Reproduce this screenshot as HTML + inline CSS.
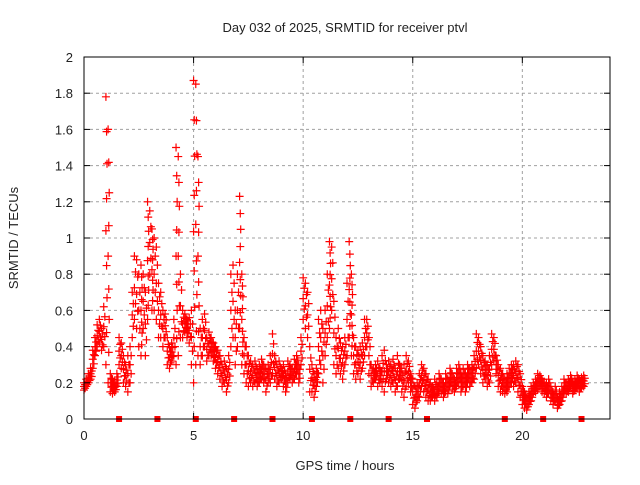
<!DOCTYPE html>
<html><head><meta charset="utf-8"><style>
body{margin:0;background:#fff}
svg text{font-family:"Liberation Sans",sans-serif;font-size:13px;fill:#222}
</style></head><body>
<svg id="chart" width="640" height="480" xmlns="http://www.w3.org/2000/svg">
<text x="345" y="32" text-anchor="middle">Day 032 of 2025, SRMTID for receiver ptvl</text>
<text transform="translate(18,238) rotate(-90)" text-anchor="middle">SRMTID / TECUs</text>
<text x="345" y="470" text-anchor="middle">GPS time / hours</text>
<g id="grid"></g><g id="marks"></g>
<rect x="84" y="57" width="526" height="362" fill="none" stroke="#000" stroke-width="1"/>
<g id="ticks"></g>
</svg>
<script>
const xTicks=[0,5,10,15,20];
const yTicks=[0,0.2,0.4,0.6,0.8,1,1.2,1.4,1.6,1.8,2];
const yTickLabels=["0","0.2","0.4","0.6","0.8","1","1.2","1.4","1.6","1.8","2"];
const hiVals=[.20,.22,.25,.28,.38,.45,.52,.55,.50,.62,1.78,1.60,.25,.22,.20,.25,.45,.42,.35,.30,.35,.40,.70,.90,.88,.80,.85,.80,.70,1.20,1.15,1.05,1.00,.95,.75,.70,.60,.58,.45,.40,.42,.55,1.50,1.45,.80,.60,.58,.55,.56,.60,1.87,1.85,1.45,.50,.55,.58,.45,.48,.45,.42,.40,.38,.35,.30,.32,.28,.35,.80,.85,.60,.80,1.23,.80,.45,.40,.35,.32,.30,.32,.28,.30,.33,.30,.28,.30,.35,.47,.35,.30,.32,.28,.30,.25,.32,.30,.28,.33,.35,.30,.45,.78,.75,.70,.40,.30,.25,.28,.55,.60,.50,.60,.80,.98,.95,.65,.45,.50,.42,.40,.45,.75,.98,.80,.45,.40,.38,.40,.42,.55,.55,.45,.30,.28,.30,.32,.28,.35,.38,.30,.32,.30,.33,.28,.35,.30,.28,.30,.35,.32,.25,.22,.18,.20,.25,.30,.28,.25,.22,.20,.18,.22,.20,.25,.22,.20,.25,.22,.28,.25,.22,.28,.30,.25,.28,.25,.30,.28,.30,.35,.47,.45,.40,.35,.32,.30,.35,.47,.45,.35,.30,.28,.25,.22,.25,.28,.30,.30,.32,.30,.25,.18,.15,.12,.15,.18,.20,.22,.25,.24,.22,.20,.20,.22,.18,.15,.18,.12,.15,.18,.22,.20,.22,.24,.20,.22,.24,.22,.23,.24];
const loVals=[.16,.18,.20,.22,.28,.35,.40,.42,.38,.40,.30,.20,.15,.14,.15,.18,.30,.28,.20,.18,.15,.20,.45,.55,.50,.40,.35,.50,.35,.55,.80,.60,.60,.55,.45,.45,.40,.45,.30,.28,.32,.35,.30,.35,.45,.45,.48,.45,.42,.30,.20,.30,.35,.30,.35,.40,.32,.35,.35,.32,.28,.25,.22,.18,.20,.15,.20,.40,.45,.30,.40,.50,.30,.25,.20,.18,.20,.18,.20,.18,.20,.22,.20,.15,.20,.20,.25,.22,.18,.20,.22,.18,.15,.20,.22,.20,.22,.25,.20,.30,.55,.50,.45,.15,.15,.12,.18,.25,.30,.20,.35,.45,.50,.60,.30,.25,.28,.25,.22,.30,.35,.45,.35,.25,.22,.25,.22,.28,.35,.40,.25,.18,.20,.22,.18,.20,.18,.15,.22,.20,.18,.20,.15,.18,.22,.15,.12,.18,.20,.15,.08,.06,.10,.12,.18,.15,.12,.10,.10,.12,.10,.12,.15,.14,.12,.15,.14,.18,.16,.15,.18,.20,.15,.18,.15,.20,.18,.20,.22,.28,.30,.25,.20,.22,.18,.20,.30,.32,.25,.18,.15,.15,.14,.15,.18,.20,.18,.20,.15,.12,.08,.06,.05,.08,.10,.14,.15,.16,.18,.15,.14,.12,.14,.10,.08,.10,.06,.08,.10,.14,.14,.15,.18,.14,.16,.18,.15,.17,.18];
const gapTimes=[1.6,3.35,5.1,6.85,8.6,10.4,12.15,13.9,15.65,19.2,20.95,22.7];
const t0=0, dt=0.1;
const X=t=>84+t*(526/24), Y=v=>419-v*181;
const NS="http://www.w3.org/2000/svg";
function mk(tag,attrs,parent){const e=document.createElementNS(NS,tag);for(const k in attrs)e.setAttribute(k,attrs[k]);parent.appendChild(e);return e;}
const grid=document.getElementById('grid'),ticks=document.getElementById('ticks'),marks=document.getElementById('marks');
yTicks.forEach((v,i)=>{
 if(v>0&&v<2){const g=mk('line',{x1:84,x2:610,y1:Y(v),y2:Y(v),stroke:'#a0a0a0','stroke-dasharray':'3,3'},grid);
 
 }
 mk('line',{x1:84,x2:90,y1:Y(v),y2:Y(v),stroke:'#000'},ticks);
 mk('line',{x1:604,x2:610,y1:Y(v),y2:Y(v),stroke:'#000'},ticks);
 const t=mk('text',{x:73,y:Y(v)+5,'text-anchor':'end'},ticks);t.textContent=yTickLabels[i];
 
 
});
xTicks.forEach(h=>{
 if(h>0){const g=mk('line',{x1:X(h),x2:X(h),y1:57,y2:419,stroke:'#a0a0a0','stroke-dasharray':'3,3'},grid);
 
 }
 mk('line',{x1:X(h),x2:X(h),y1:419,y2:413,stroke:'#000'},ticks);
 mk('line',{x1:X(h),x2:X(h),y1:57,y2:63,stroke:'#000'},ticks);
 const t=mk('text',{x:X(h),y:440,'text-anchor':'middle'},ticks);t.textContent=String(h);
 
 
});
function plus(t,v){const x=X(t),y=Y(v);
 const p=mk('path',{d:`M${x-4},${y}h8M${x},${y-4}v8`,stroke:'#ff0000','stroke-width':1.2,fill:'none'},marks);
 
 }
hiVals.forEach((h,i)=>{const t=t0+i*dt,l=loVals[i];
 [0,0.25,0.5,0.75,1].forEach((f,k)=>plus(t+(k%2?0.05:0),l+(h-l)*f));
 if(h-l>0.4){[0.12,0.37,0.62,0.87].forEach(f=>plus(t+0.03,l+(h-l)*f));}
});
gapTimes.forEach(t=>{const r=mk('rect',{x:X(t)-3,y:416,width:6,height:6,fill:'#ff0000'},marks);
 
 });
</script>
</body></html>
